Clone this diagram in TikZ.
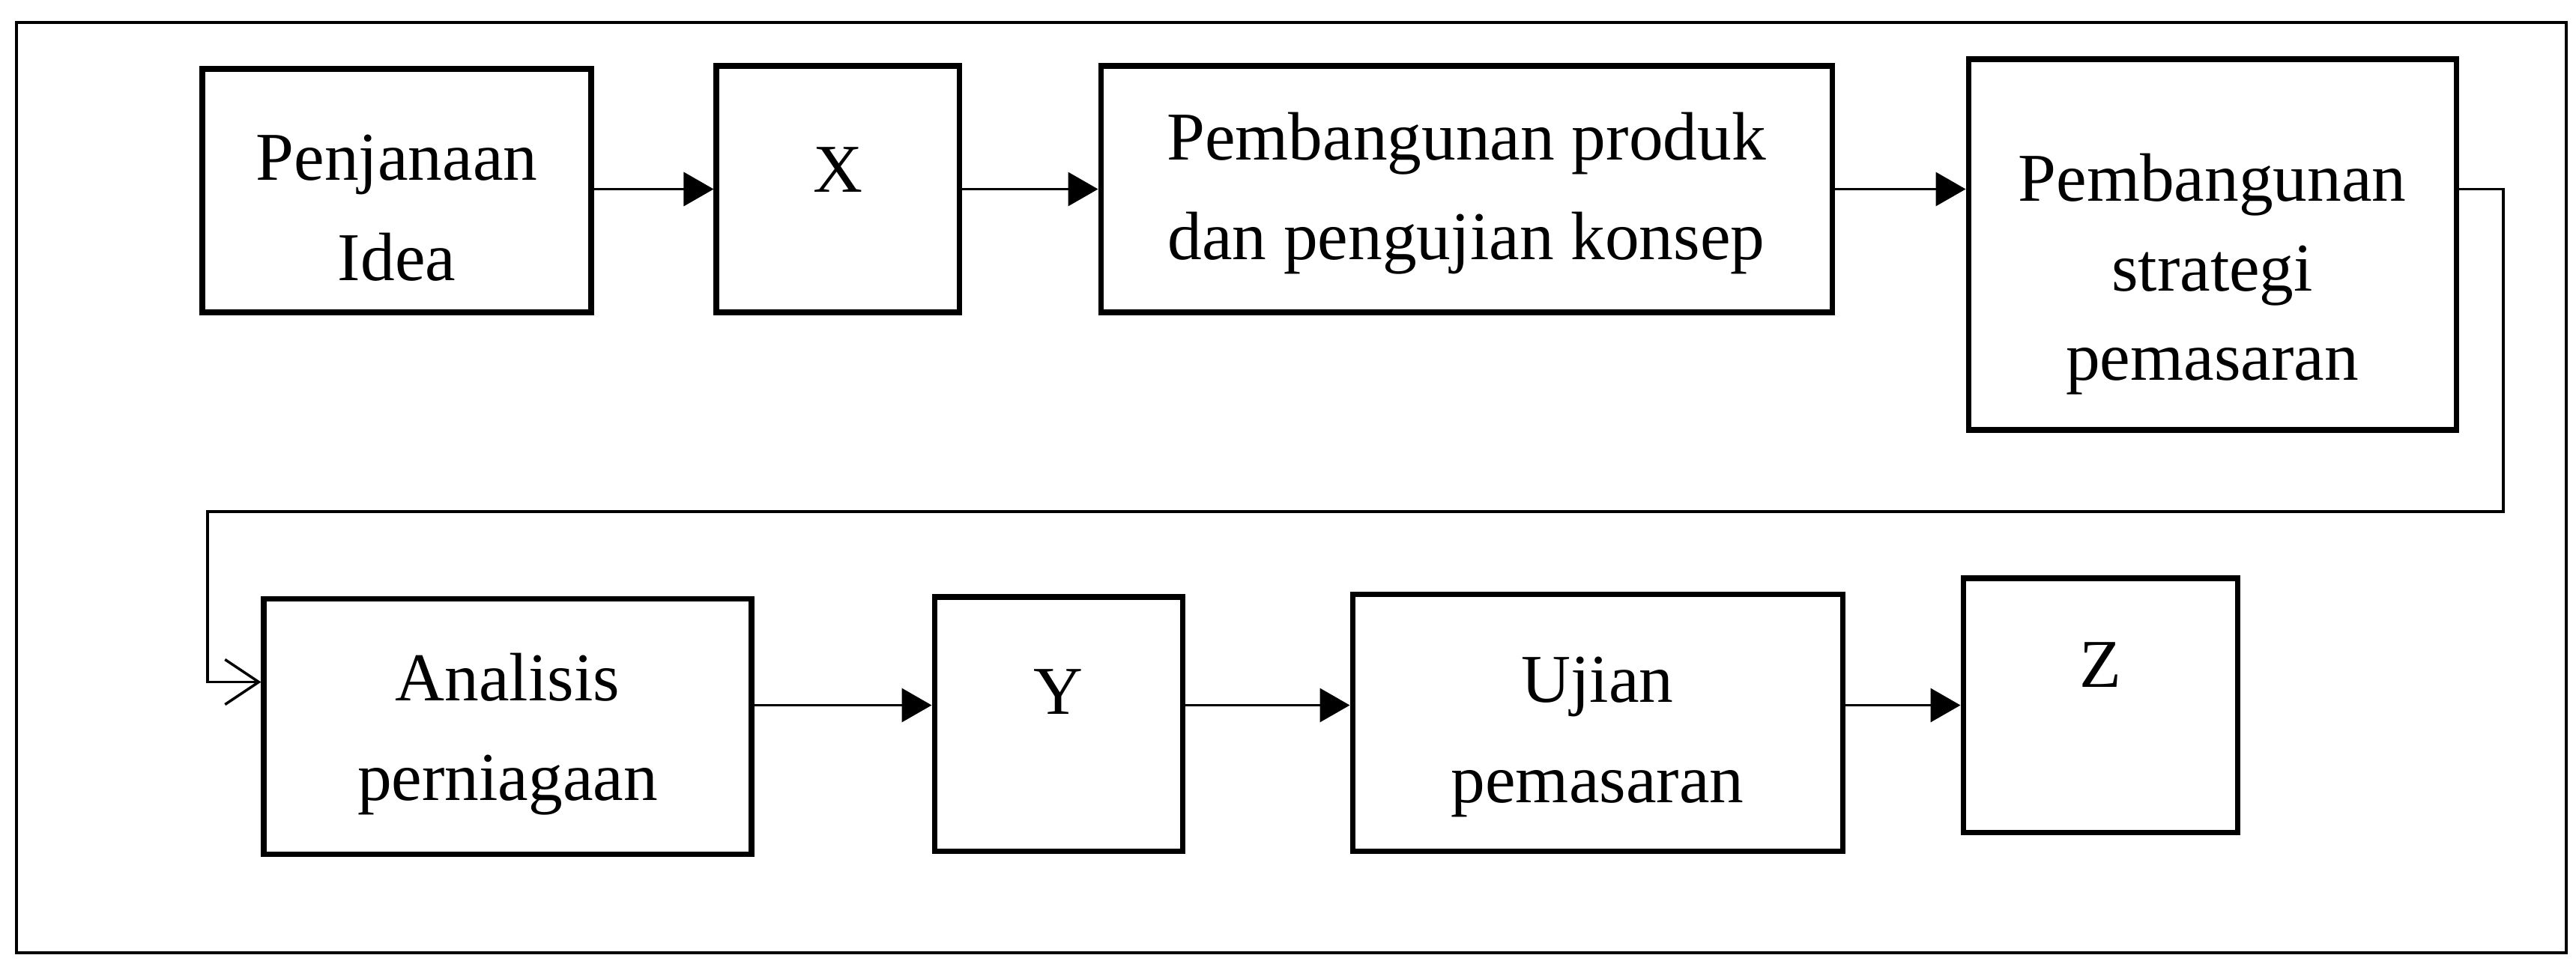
\documentclass[tikz,border=0pt]{standalone}
\usepackage{fontspec}
\setmainfont{Liberation Serif}
\usepackage{tikz}
\usetikzlibrary{arrows.meta}
\tikzstyle{stage} = [draw, line width=2pt, align=center, inner sep=0pt, font=\fontsize{26pt}{38pt}\selectfont]
\tikzstyle{letter} = [stage, text depth=8.6mm]
\tikzstyle{arrow} = [line width=1pt,->,>={Triangle[length=4mm,width=4.5mm]}]
\tikzstyle{loopback} = [line width=1pt,->,>={Straight Barb[length=4.5mm,width=6mm]}]

\begin{document}
\begin{tikzpicture}
		\useasboundingbox (0, 0) rectangle (34.38, -12.90);
		\draw[line width=1.2pt] (0.22, -0.30) rectangle (34.25, -12.72);
		% first row
		\node[stage, minimum width=5.19cm, minimum height=3.25cm] (idea) at (5.295, -2.545) {\rule{0pt}{1.07cm}Penjanaan\\Idea};
		\node[letter, minimum width=3.24cm, minimum height=3.29cm, text depth=5.2mm] (xbox) at (11.18, -2.525) {X};
		\node[stage, minimum width=9.76cm, minimum height=3.29cm] (produk) at (19.57, -2.525) {\rule{0pt}{0.75cm}Pembangunan produk\\dan pengujian konsep};
		\node[stage, minimum width=6.51cm, minimum height=4.95cm, font=\fontsize{26pt}{34pt}\selectfont] (strategi) at (29.525, -3.265) {\rule{0pt}{1.43cm}Pembangunan\\strategi\\pemasaran};
		% second row
		\node[stage, minimum width=6.51cm, minimum height=3.41cm] (analisis) at (6.775, -9.695) {\rule{0pt}{0.85cm}Analisis\\perniagaan};
		\node[letter, minimum width=3.31cm, minimum height=3.39cm] (ybox) at (14.125, -9.665) {Y};
		\node[stage, minimum width=6.54cm, minimum height=3.43cm] (ujian) at (21.32, -9.645) {\rule{0pt}{0.99cm}Ujian\\pemasaran};
		\node[letter, minimum width=3.66cm, minimum height=3.39cm, text depth=10.8mm] (zbox) at (28.03, -9.415) {Z};
		\draw[arrow] (idea.east |- produk.east) -- (xbox.west |- produk.east);
		\draw[arrow] (xbox.east |- produk.east) -- (produk.west);
		\draw[arrow] (produk.east) -- (produk.east -| strategi.west);
		% back to the second row
		\coordinate (turn) at (33.41, -6.83);
		\coordinate (back) at (2.77, -6.83);
		\draw[loopback] (produk.east -| strategi.east) -| (turn) -- (back) |- ([yshift=5.9mm]analisis.west);
		\draw[arrow] (analisis.east |- zbox.west) -- (ybox.west |- zbox.west);
		\draw[arrow] (ybox.east |- zbox.west) -- (ujian.west |- zbox.west);
		\draw[arrow] (ujian.east |- zbox.west) -- (zbox.west);
		\end{tikzpicture}
\end{document}
